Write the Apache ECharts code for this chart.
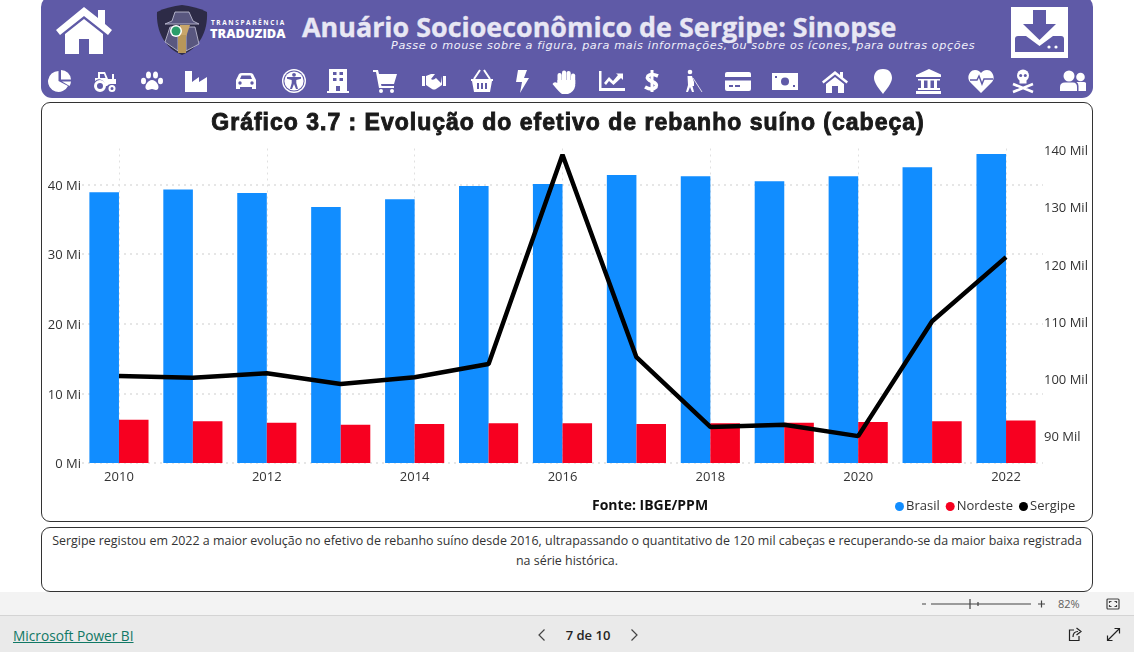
<!DOCTYPE html>
<html lang="pt-BR">
<head>
<meta charset="utf-8">
<title>Gráfico 3.7</title>
<script src="https://cdn.jsdelivr.net/npm/echarts@6/dist/echarts.min.js"></script>
<style>
  html, body { margin: 0; padding: 0; width: 1134px; height: 652px; overflow: hidden; background: #fff; font-family: "Open Sans", "Noto Sans", sans-serif; }
  #header { position: absolute; left: 41px; top: -4px; width: 1052px; height: 102px; background: #5f5aa7; border-radius: 11px; }
  #header svg { position: absolute; fill: #fff; }
  #headTitle { position: absolute; left: 261px; top: 13px; font-size: 26.9px; font-weight: 700; color: #e8e7f4; white-space: nowrap; line-height: 36px; -webkit-text-stroke: .35px #e8e7f4; }
  #headSub { position: absolute; left: 350px; top: 43px; font: italic 11.2px "DejaVu Sans", sans-serif; color: #f0effa; white-space: nowrap; letter-spacing: .63px; }
  #logoA { position: absolute; left: 170px; top: 22px; font: 700 6.5px "Open Sans", sans-serif; letter-spacing: 1.6px; color: #fff; white-space: nowrap; }
  #logoB { position: absolute; left: 169px; top: 28px; font: 800 12.8px "Open Sans", sans-serif; color: #fff; white-space: nowrap; }
  .panel { position: absolute; left: 41px; width: 1050px; border: 1px solid #333; border-radius: 9px; background: #fff; box-sizing: content-box; }
  #chartPanel { top: 102px; height: 418px; }
  #chart { position: absolute; left: 41px; top: 102px; width: 1052px; height: 420px; }
  #chartTitle { position: absolute; left: 41px; top: 107px; width: 1054px; text-align: center; font: bold 23px/30px "Liberation Sans", Arial, sans-serif; letter-spacing: 1px; color: #1a1a1a; -webkit-text-stroke: .9px #1a1a1a; white-space: nowrap; }
  #notePanel { top: 527px; height: 63px; text-align: center; font-size: 12.45px; line-height: 20px; color: #333; }
  #notePanel div { padding: 3px 6px 0; }
  #zoomBar { position: absolute; left: 0; top: 592px; width: 1134px; height: 23px; background: #f3f3f3; border-bottom: 1px solid #d4d4d4; }
  #footer { position: absolute; left: 0; top: 616px; width: 1134px; height: 36px; background: #eaeaea; }
  #pbi { position: absolute; left: 13px; top: 10px; font-size: 13.7px; line-height: 20px; color: #117865; text-decoration: underline; }
  #pageNo { position: absolute; left: 558px; top: 10px; width: 60px; text-align: center; font-size: 13px; line-height: 19px; font-weight: 600; color: #252423; }
  #pct { position: absolute; left: 1058px; top: 4px; font-size: 11px; line-height: 16px; color: #605e5c; }
  .chrome { position: absolute; fill: none; stroke: #444; stroke-width: 1.2; }
</style>
</head>
<body>
<div id="header">
  <svg style="left:14px;top:6px" width="58" height="52" viewBox="0 0 58 52"><path d="M29 5 L43 16 V8 H50 V22 L57 28 L53 33 L29 14 L5 33 L1 28 Z"/><path d="M10 32 L29 17 L48 32 V52 H34 V37 H24 V52 H10 Z"/></svg>
  <svg style="left:114px;top:8px;" width="54" height="52" viewBox="0 0 54 52"><path style="fill:#2d2b47" d="M27 1 C36 2 44 4 52 8 C53 28 44 44 27 51 C10 44 1 28 2 8 C10 4 18 2 27 1 Z"/><path style="fill:#59577f;stroke:#c9c8dc;stroke-width:.8" d="M17 17 L20 8 H34 L38 17 L44 20 H10 Z"/><path style="fill:#59577f;stroke:#c9c8dc;stroke-width:.8" d="M15 23 H40 L44 40 L31 47 V30 H23 V47 L10 38 Z"/><path style="fill:#c9a66a" d="M25 21 H35 L31 33 H25 Z"/><rect style="fill:#b8975a" x="23" y="31" width="8" height="18"/><circle style="fill:#fff" cx="21" cy="27" r="6"/><circle style="fill:#2a9d6a" cx="21" cy="27" r="4.500"/></svg>
  <div id="logoA">TRANSPARÊNCIA</div>
  <div id="logoB">TRADUZIDA</div>
  <div id="headTitle">Anuário Socioeconômico de Sergipe: Sinopse</div>
  <div id="headSub">Passe o mouse sobre a figura, para mais informações, ou sobre os ícones, para outras opções</div>
  <svg style="left:970px;top:11px" width="57" height="51" viewBox="0 0 57 51"><rect width="57" height="51"/><path style="fill:#5f5aa7" d="M22 3 H35 V17 H45 L28.500 33 L12 17 H22 Z"/><path style="fill:#5f5aa7" d="M7 29 H15 L28.500 39 L42 29 H50 Q53 29 53 32 V45 H4 V32 Q4 29 7 29 Z"/><circle cx="38" cy="40" r="1.600"/><circle cx="45" cy="40" r="1.600"/></svg>
  <div id="icons"></div>
</div>

<div class="panel" id="chartPanel"></div>
<div id="chart"></div>
<div id="chartTitle">Gráfico 3.7 : Evolução do efetivo de rebanho suíno (cabeça)</div>

<div class="panel" id="notePanel"><div>Sergipe registou em 2022 a maior evolução no efetivo de rebanho suíno desde 2016, ultrapassando o quantitativo de 120 mil cabeças e recuperando-se da maior baixa registrada na série histórica.</div></div>

<div id="zoomBar">
  <svg class="chrome" style="left:918px;top:4px" width="130" height="16" viewBox="0 0 130 16"><path d="M4 8 H8 M13 8 H113 M52 3 V13 M60 6 V10 M120 8 H127 M123.500 4.500 V11.500"/></svg>
  <div id="pct">82%</div>
  <svg class="chrome" style="left:1106px;top:5px" width="14" height="14" viewBox="0 0 14 14"><rect x="1" y="2" width="12" height="10" rx="1"/><path d="M3.500 6 V4.500 H5.500 M8.500 4.500 H10.500 V6 M10.500 8 V9.500 H8.500 M5.500 9.500 H3.500 V8"/></svg>
</div>
<div id="footer">
  <div id="pbi">Microsoft Power BI</div>
  <svg class="chrome" style="left:536px;top:12px" width="12" height="14" viewBox="0 0 12 14"><path d="M8.500 1.500 L3 7 L8.500 12.500"/></svg>
  <div id="pageNo">7 de 10</div>
  <svg class="chrome" style="left:628px;top:12px" width="12" height="14" viewBox="0 0 12 14"><path d="M3.500 1.500 L9 7 L3.500 12.500"/></svg>
  <svg class="chrome" style="left:1068px;top:11px;stroke:#222" width="14" height="15" viewBox="0 0 14 15"><path d="M6 3 H1.500 V13.500 H11 V9 M5 10 C5 6 7 4.500 10 4.500 M8.500 1 L13 4.500 L8.500 8"/></svg>
  <svg class="chrome" style="left:1106px;top:11px;stroke:#222" width="15" height="15" viewBox="0 0 15 15"><path d="M1.500 8.500 V13.500 H6.500 M1.500 13.500 L13.500 1.500 M8.500 1.500 H13.500 V6.500"/></svg>
</div>

<script>
// dados
const anos = ['2010', '2011', '2012', '2013', '2014', '2015', '2016', '2017', '2018', '2019', '2020', '2021', '2022']
const brasil = [38.9, 39.3, 38.8, 36.8, 37.9, 39.8, 40.1, 41.4, 41.2, 40.5, 41.2, 42.5, 44.4] // milhoes
const nordeste = [6.2, 6.0, 5.8, 5.5, 5.6, 5.7, 5.7, 5.6, 5.7, 5.8, 5.9, 6.0, 6.1] // milhoes
const sergipe = [100.2, 99.9, 100.7, 98.8, 100.0, 102.3, 138.9, 103.5, 91.3, 91.7, 89.7, 109.8, 121.0] // mil

// icones da barra do cabecalho: [centro x na pagina, conteudo svg 26x26]
const P = 'style="fill:#5f5aa7"'
const barraIcones = [
  [61, '<path d="M10.500 2 A10.500 10.500 0 1 0 20 17 L10.500 12 Z"/><path d="M13 1 A10 10 0 0 1 23 10.500 H13 Z"/><path d="M14 12.500 H23 A10 10 0 0 1 21.500 17 Z"/>'],
  [106, '<path d="M5 3 H12 L15 10 H19 V5 H21 V10 H23 V15 H19 A5 5 0 0 0 14 17 H12 A6 6 0 0 0 2 12 V9 H5 Z"/><path ' + P + ' d="M7 5 H11 L12.500 9 H7 Z"/><circle cx="7" cy="17" r="4.500" style="fill:none;stroke:#fff;stroke-width:3"/><circle cx="19" cy="19.500" r="2.500" style="fill:none;stroke:#fff;stroke-width:2"/>'],
  [153, '<ellipse cx="8.500" cy="6" rx="2.500" ry="3.500"/><ellipse cx="15.500" cy="6" rx="2.500" ry="3.500"/><ellipse cx="3.500" cy="12" rx="2.500" ry="3.200"/><ellipse cx="20.500" cy="12" rx="2.500" ry="3.200"/><path d="M12 11 C16 11 20 17 18 20 C16 22 14 20 12 20 C10 20 8 22 6 20 C4 17 8 11 12 11 Z"/>'],
  [197, '<path d="M1 2 H8 V13 L15 8 V13 L23 8 V23 H1 Z"/>'],
  [247, '<path d="M2 11 L5 5 Q6 4 8 4 H16 Q18 4 19 5 L22 11 V20 H18 V18 H6 V20 H2 Z"/><path ' + P + ' d="M6 10 L7.500 6.500 H16.500 L18 10 Z"/><circle ' + P + ' cx="6" cy="14" r="1.700"/><circle ' + P + ' cx="18" cy="14" r="1.700"/>'],
  [295, '<circle cx="12" cy="12" r="12"/><circle ' + P + ' cx="12" cy="12" r="10.600"/><circle cx="12" cy="12" r="9.600"/><circle ' + P + ' cx="12" cy="5.800" r="1.900"/><path ' + P + ' d="M5 8 H19 V9.800 L14.300 11 V14 L16 20 H14 L12 15 L10 20 H8 L9.700 14 V11 L5 9.800 Z"/>'],
  [339, '<rect x="3" y="0" width="18" height="23"/><rect y="22" x="1" width="22" height="2"/><g ' + P + '><rect x="7" y="3" width="3.500" height="3"/><rect x="13.500" y="3" width="3.500" height="3"/><rect x="7" y="9" width="3.500" height="3"/><rect x="13.500" y="9" width="3.500" height="3"/><rect x="10" y="17" width="4" height="5"/></g>'],
  [386, '<path d="M0 1 H5 L6 5 H24 L21 15 H8 L8.500 17 H21 V19 H6 L3 3 H0 Z"/><circle cx="8" cy="22" r="2"/><circle cx="19" cy="22" r="2"/>'],
  [435, '<rect x="0" y="7" width="3" height="10"/><rect x="21" y="7" width="3" height="10"/><path d="M4 7 L9 5 H13 L9 10 Q11 12 14 9 L19 14 L20 7 V16 L14 20 Q12 21 10 20 L4 16 Z"/>'],
  [483, '<path d="M1 10 H23 V12 H22 L20 23 H4 L2 12 H1 Z"/><path d="M4 10 L10 1 M20 10 L14 1" style="fill:none;stroke:#fff;stroke-width:2"/><g ' + P + '><rect x="7" y="14" width="2" height="6"/><rect x="11" y="14" width="2" height="6"/><rect x="15" y="14" width="2" height="6"/></g>'],
  [523, '<path d="M8 1 H17 L14 9 H19 L10 24 L12 13 H6 Z"/>'],
  [565, '<rect x="5.500" y="4" width="4.200" height="12" rx="2"/><rect x="10" y="1.500" width="4.200" height="12" rx="2"/><rect x="14.500" y="2" width="4.200" height="12" rx="2"/><rect x="19" y="4.500" width="4.200" height="12" rx="2"/><path d="M5.500 11 H23.200 V17 Q22 23 16 25 H10 Q7 23 0.500 15 Q2 12 5.500 14 Z"/>'],
  [612, '<path d="M0 2 H2.500 V19 H26 V22 H0 Z"/><path d="M5 14 L10 8 L14 12 L19 6 L17 4.500 H24 V11 L22 9 L14.500 16 L10 12 L7 16 Z"/>'],
  [653, '<path d="M5 18 Q12 22 16 18 Q18 15 12 12.500 Q6 10 8 7 Q11 4 18 7" style="fill:none;stroke:#fff;stroke-width:3.600"/><rect x="10.500" y="1" width="3" height="22"/>'],
  [693, '<circle cx="10" cy="3" r="2.300"/><path d="M7.500 7 H12 L14 13 V17 H12.500 L14 23 H12 L10 18 L8 23 H6 L8 16 Z"/><path d="M13 9 L22 23" style="fill:none;stroke:#fff;stroke-width:.8"/>'],
  [738, '<rect x="0" y="3" width="26" height="19" rx="2"/><rect ' + P + ' x="0" y="8" width="26" height="3.500"/><rect ' + P + ' x="4" y="16" width="4" height="2"/><rect ' + P + ' x="10" y="16" width="5" height="2"/>'],
  [785, '<rect x="0" y="4" width="26" height="17"/><circle ' + P + ' cx="13" cy="12.500" r="4"/><rect ' + P + ' x="3" y="7" width="2" height="2"/><rect ' + P + ' x="21" y="16" width="2" height="2"/>'],
  [835, '<path d="M13 2 L18 6 V3 H21 V8.500 L26 12.500 L24.500 14.500 L13 5.500 L1.500 14.500 L0 12.500 Z"/><path d="M4 15 L13 8 L22 15 V24 H16 V17 H10 V24 H4 Z"/>'],
  [884, '<path d="M12 0 C19 0 21 5 21 9 C21 14 15 21 12 25 C9 21 3 14 3 9 C3 5 5 0 12 0 Z"/>'],
  [928, '<path d="M14 0 L27 6 V8 H1 V6 Z"/><g><rect x="3" y="10" width="22" height="1.500"/><rect x="6" y="11" width="3" height="8"/><rect x="12.500" y="11" width="3" height="8"/><rect x="19" y="11" width="3" height="8"/><rect x="3" y="19" width="22" height="2"/><rect x="1" y="22" width="26" height="3"/></g>'],
  [981, '<path d="M13 24 L2 13 C-2 8 2 1 7 1 C10 1 12 2.500 13 4 C14 2.500 16 1 19 1 C24 1 28 8 24 13 Z"/><path d="M2 11 H9 L11 7 L14 15 L16 10 H25" style="fill:none;stroke:#5f5aa7;stroke-width:1.500"/>'],
  [1024, '<circle cx="12" cy="6.500" r="6"/><rect x="8.500" y="10" width="7" height="4.500"/><circle ' + P + ' cx="9.700" cy="6.500" r="1.500"/><circle ' + P + ' cx="14.300" cy="6.500" r="1.500"/><path d="M2 15 L22 23 M22 15 L2 23" style="fill:none;stroke:#fff;stroke-width:2.600"/>'],
  [1073, '<circle cx="9" cy="7" r="5.500"/><circle cx="20.500" cy="8" r="4.300"/><path d="M0 22 V18 Q0 13.500 5 13.500 H13 Q17 13.500 17 18 V22 Z"/><path d="M18.500 22 V17 Q18.500 14 16.500 13 H24 Q27 13.500 27 17 V22 Z"/>']
]

let htmlIcones = ''
barraIcones.forEach(item => {
  htmlIcones += '<svg style="left:' + (item[0] - 41 - 13) + 'px;top:73px" width="26" height="26" viewBox="0 0 26 26">' + item[1] + '</svg>'
})
document.getElementById('icons').innerHTML = htmlIcones

const corTexto = '#333'
const fonte = '"Open Sans", "Noto Sans", sans-serif'
const chart = echarts.init(document.getElementById('chart'))

chart.setOption({
  animation: false,
  legend: {
    left: 849,
    top: 393,
    itemWidth: 9,
    itemHeight: 9,
    itemGap: 6,
    textStyle: { fontFamily: fonte, fontSize: 13, color: corTexto, padding: [0, 0, 0, -3] },
    data: [
      { name: 'Brasil', icon: 'circle' },
      { name: 'Nordeste', icon: 'circle' },
      { name: 'Sergipe', icon: 'circle' }
    ]
  },
  graphic: [
    {
      type: 'text',
      left: 551,
      top: 397,
      style: {
        text: 'Fonte: IBGE/PPM',
        fontFamily: fonte,
        fontSize: 14,
        fontWeight: 'bold',
        fill: '#111'
      }
    }
  ],
  grid: { left: 41, right: 50, top: 46.5, height: 314.5, containLabel: false },
  xAxis: {
    type: 'category',
    data: anos,
    axisLine: { show: false },
    axisTick: { show: false },
    axisLabel: { interval: 1, margin: 8, fontFamily: fonte, fontSize: 13, color: corTexto },
    splitLine: {
      show: true,
      interval: 1,
      alignWithLabel: true,
      lineStyle: { color: '#e0e0e0', type: [2, 4], width: 1 }
    }
  },
  yAxis: [
    {
      type: 'value',
      min: 0,
      max: 45.19,
      interval: 10,
      axisLine: { show: false },
      axisTick: { show: false },
      axisLabel: { showMaxLabel: false, margin: 1, verticalAlign: 'top', lineHeight: 3, fontFamily: fonte, fontSize: 13, color: corTexto, formatter: v => v + ' Mi' },
      splitLine: { show: true, showMaxLine: false, lineStyle: { color: '#e6e6e6', type: [2, 4], width: 2 } }
    },
    {
      type: 'value',
      min: 85,
      max: 140,
      interval: 5,
      axisLine: { show: false },
      axisTick: { show: false },
      axisLabel: { margin: 1, verticalAlign: 'top', lineHeight: 6, fontFamily: fonte, fontSize: 13, color: corTexto, formatter: v => (v % 10 === 0 ? v + ' Mil' : '') },
      splitLine: { show: false }
    }
  ],
  series: [
    {
      name: 'Brasil',
      type: 'bar',
      data: brasil,
      barGap: 0,
      barCategoryGap: '20%',
      itemStyle: { color: '#118dff' }
    },
    {
      name: 'Nordeste',
      type: 'bar',
      data: nordeste,
      itemStyle: { color: '#f70020' }
    },
    {
      name: 'Sergipe',
      type: 'line',
      yAxisIndex: 1,
      data: sergipe,
      symbol: 'none',
      z: 5,
      itemStyle: { color: '#000' },
      lineStyle: { color: '#000', width: 4.5 }
    }
  ]
})
</script>
</body>
</html>
